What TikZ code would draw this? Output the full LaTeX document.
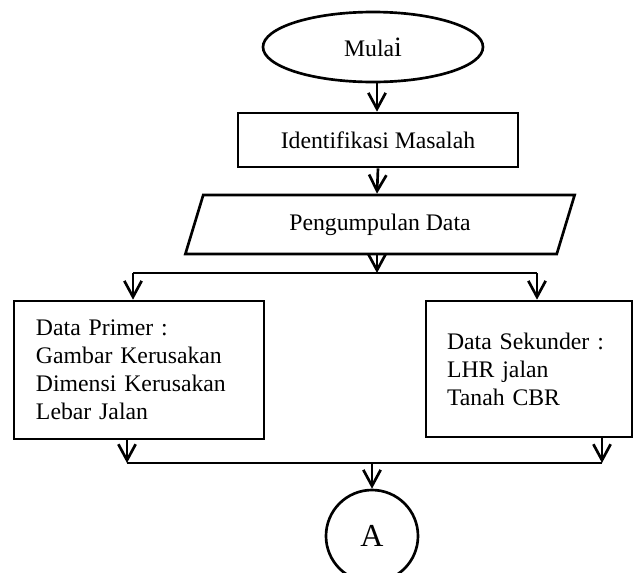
\documentclass[tikz,border=0pt]{standalone}
\usepackage{fontspec}
\setmainfont{Liberation Serif}
\usepackage{tikz}
\usetikzlibrary{arrows}
\usetikzlibrary{shapes.geometric}
\usetikzlibrary{positioning}
\usetikzlibrary{arrows.meta}
\usetikzlibrary{calc}
\tikzstyle{terminal}=[ellipse, draw=black, line width=2pt, fill=white, minimum width=165pt, minimum height=52.5pt]
\tikzstyle{process}=[rectangle, draw=black, line width=2pt, fill=white, minimum width=210pt, minimum height=40.5pt]
\tikzstyle{inout}=[trapezium, trapezium left angle=67, trapezium right angle=113, trapezium stretches=true, draw=black, line width=2pt, fill=white, minimum width=292.5pt, minimum height=44.25pt]
\tikzstyle{databox}=[rectangle, draw=black, line width=2pt, fill=white, align=left]
\tikzstyle{connector}=[circle, draw=black, line width=2pt, fill=white, minimum size=69pt, font=\fontsize{24}{28}\selectfont]

\begin{document}
\begin{tikzpicture}[x=0.75pt,y=-0.75pt,>={Straight Barb[length=12pt,width=13pt]},
	every node/.style={font=\fontsize{17.8}{21}\selectfont, inner sep=0pt}]
	\useasboundingbox (0,0) rectangle (636,572);
	% flowchart nodes
	\node (mulai) at (373,47) [terminal] {\raisebox{-3pt}{Mula{\fontsize{21}{21}\selectfont i}}};
	\node (ident) at (378,140) [process] {Identifikasi Masalah};
	\node (kumpul) at (380,224.5) [inout] {\raisebox{-3pt}{Pengumpulan Data}};
	\node (primer) at (139,370) [databox, minimum width=187.5pt, minimum height=103.5pt, text width=154.5pt] {Data Primer :\\Gambar Kerusakan\\Dimensi Kerusakan\\Lebar Jalan};
	\node (sekunder) at (529,369) [databox, minimum width=154.5pt, minimum height=102pt, text width=123pt] {Data Sekunder :\\LHR jalan\\Tanah CBR};
	\node (A) at (372,536) [connector] {A};
	% junction points
	\coordinate (split) at (377,273);
	\coordinate (splitL) at (133,273);
	\coordinate (splitR) at (537,273);
	\coordinate (joinL) at (127,463);
	\coordinate (joinR) at (602,463);
	\coordinate (join) at (372,463);
	\path[->,line width=2pt,black]
		(377,0 |- mulai.south) edge (377,0 |- ident.north)
		(ident.south) edge (377,0 |- kumpul.north)
		(377,0 |- kumpul.south) edge (split)
		(splitL) edge (splitL |- primer.north)
		(splitR) edge (splitR |- sekunder.north)
		(joinL |- primer.south) edge (joinL)
		(joinR |- sekunder.south) edge (joinR)
		(join) edge (A.north);
	\draw[line width=2pt] (splitL) -- (splitR);
	\draw[line width=2pt] (joinL) -- (joinR);
\end{tikzpicture}
\end{document}
